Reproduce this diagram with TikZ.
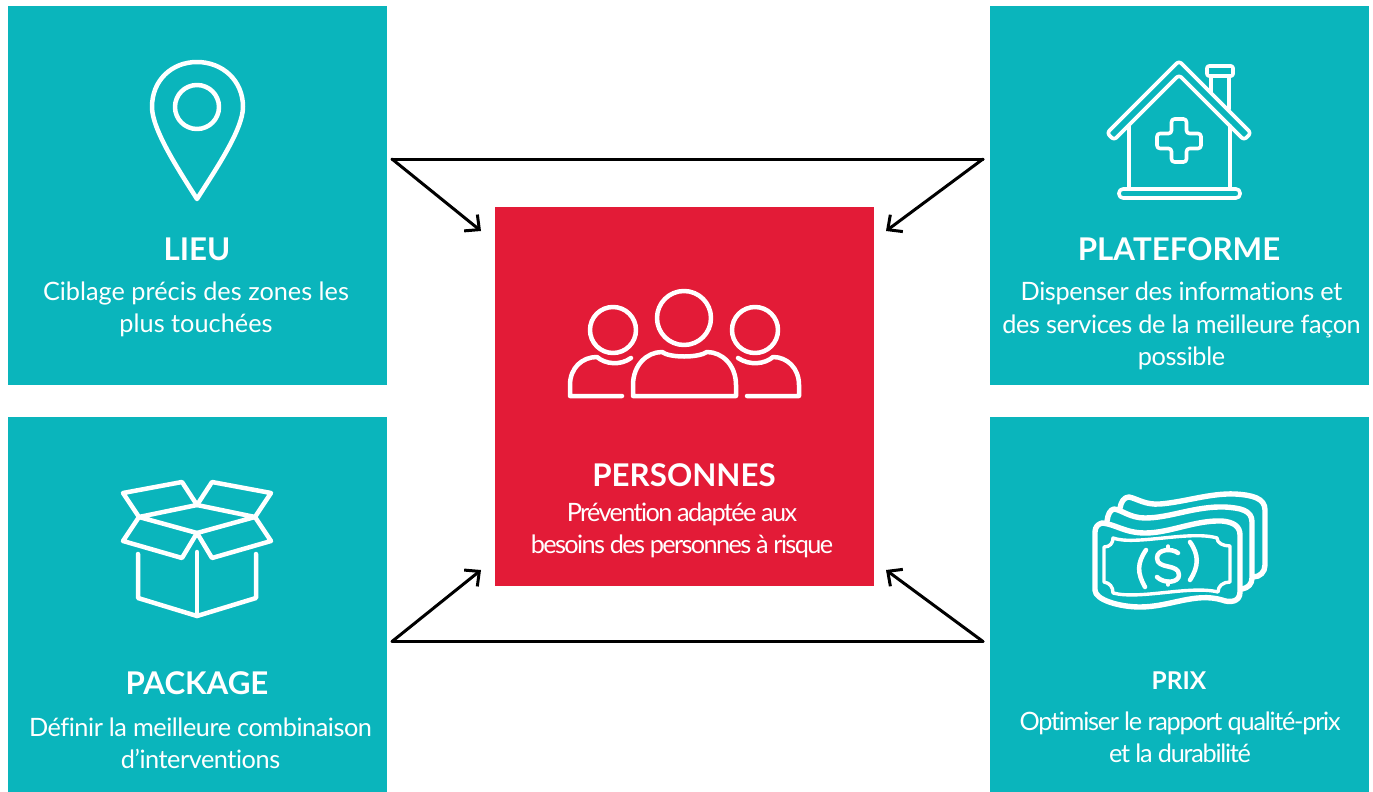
\documentclass[tikz,border=0pt]{standalone}
\usepackage{fontspec}
\setmainfont{Lato}[Ligatures=NoCommon]
\usetikzlibrary{arrows.meta}
\definecolor{tealfond}{HTML}{0AB5BC}
\definecolor{rougefond}{HTML}{E31B37}
\begin{document}
\begin{tikzpicture}[x=1pt, y=-1pt,
	tealbox/.style={fill=tealfond, draw=none, outer sep=0pt, inner sep=0pt, minimum width=379pt, minimum height=379pt},
	redbox/.style={fill=rougefond, draw=none, outer sep=0pt, inner sep=0pt, minimum width=379pt, minimum height=379pt},
	title/.style={text=white, font=\fontsize{31.3}{32}\selectfont\bfseries, inner sep=0pt},
	smalltitle/.style={text=white, font=\fontsize{24.5}{28}\selectfont\bfseries, inner sep=0pt},
	desc/.style={text=white, font=\fontsize{25.3}{32.3}\selectfont, align=center, inner sep=0pt},
	icon/.style={draw=white, line width=4.5pt, line cap=round, line join=round},
	link/.style={draw=black, line width=3pt, line cap=round, line join=miter}]
	\useasboundingbox (0,0) rectangle (1373,792);
	\node[tealbox] (L) at (197.5,195.5) {};
	\node[tealbox] (T) at (1179.5,195.5) {};
	\node[tealbox, minimum height=375pt] (P) at (197.5,604.5) {};
	\node[tealbox, minimum height=375pt] (R) at (1179.5,604.5) {};
	\node[redbox] (C) at (684.5,396.5) {};
	\node[title] (Lt) at (197,249) {LIEU};
	\node[desc] (Ld) at (196,309) {Ciblage précis des zones les\\plus touchées};
	\node[title] (Tt) at (1179,249) {PLATEFORME};
	\node[desc, font=\fontsize{25.3}{32.3}\addfontfeature{LetterSpace=-1.5}] (Td) at (1181.5,326) {Dispenser des informations et\\des services de la meilleure façon\\possible};
	\node[title] (Pt) at (197,683) {PACKAGE};
	\node[desc, font=\fontsize{25.3}{32.3}\addfontfeature{LetterSpace=-1.8}] (Pd) at (200.5,743) {Définir la meilleure combinaison\\d’interventions};
	\node[smalltitle] (Rt) at (1179,681) {PRIX};
	\node[desc, font=\fontsize{25.3}{32.3}\addfontfeature{LetterSpace=-5}] (Rd) at (1180,737) {Optimiser le rapport qualité-prix\\et la durabilité};
	\node[title] (Ct) at (684,475) {PERSONNES};
	\node[desc, font=\fontsize{25.3}{32.3}\addfontfeature{LetterSpace=-6.5}] (Cd) at (682,530.5) {Prévention adaptée aux\\besoins des personnes à risque};
	% coins des fleches
	\coordinate (a1) at (392,159);
	\coordinate (a2) at (983,159);
	\coordinate (a3) at (392,641.5);
	\coordinate (a4) at (983,641.5);
	\coordinate (b1) at (481,231);
	\coordinate (b2) at (886,231);
	\coordinate (b3) at (481,570);
	\coordinate (b4) at (886,570);
	\begin{scope}[>={Straight Barb[length=11pt, width=21pt, line width=3pt]}]
	\draw[link] (a1) -- (a2);
	\draw[link] (a3) -- (a4);
	\draw[link, ->] (a1) -- (b1);
	\draw[link, ->] (a2) -- (b2);
	\draw[link, ->] (a3) -- (b3);
	\draw[link, ->] (a4) -- (b4);
	\end{scope}
	% lieu
	\draw[icon] (197,199) .. controls (180,172) and (152,130) .. (152,107) .. controls (152,80) and (172,62) .. (197,62) .. controls (222,62) and (243,80) .. (243,107) .. controls (243,130) and (214,172) .. (197,199) -- cycle;
	\draw[icon] (197,107) circle (22);
	% plateforme
	\draw[icon, line width=3.6pt, rounded corners=3pt] (1179,61) -- (1251,133) -- (1244,140) -- (1179,75) -- (1114,140) -- (1107,133) -- cycle;
	\draw[icon, line width=3.6pt] (1129,126) -- (1129,188);
	\draw[icon, line width=3.6pt] (1230,126) -- (1230,188);
	\draw[icon, line width=3.6pt, rounded corners=4pt] (1119,189) rectangle (1240,198);
	\draw[icon, line width=3.6pt, rounded corners=2pt] (1207,66) rectangle (1233,76);
	\draw[icon, line width=3.6pt] (1211,76) -- (1211,92);
	\draw[icon, line width=3.6pt] (1229,76) -- (1229,109);
	\draw[icon, line width=3.6pt, rounded corners=3pt] (1171.5,119) -- (1186.5,119) -- (1186.5,133.5) -- (1201,133.5) -- (1201,148.5) -- (1186.5,148.5) -- (1186.5,162) -- (1171.5,162) -- (1171.5,148.5) -- (1157,148.5) -- (1157,133.5) -- (1171.5,133.5) -- cycle;
	% package
	\draw[icon] (139,517) -- (123,493) -- (182,482) -- (197,505);
	\draw[icon] (255,517) -- (271,493) -- (212,482) -- (197,505);
	\draw[icon] (139,517) -- (197,505) -- (255,517) -- (197,533) -- cycle;
	\draw[icon] (139,517) -- (123,541) -- (182,558) -- (197,533);
	\draw[icon] (255,517) -- (271,541) -- (212,558) -- (197,533);
	\draw[icon] (138,554) -- (138,598) -- (197,616) -- (256,598) -- (256,554);
	\draw[icon] (197,552) -- (197,616);
	% prix
	\draw[icon, line width=5.4pt] (1102,523) .. controls (1115,524) and (1125,533) .. (1145,533) .. controls (1170,533) and (1195,520) .. (1222,521) .. controls (1233,522) and (1240,526) .. (1240,535) -- (1240,592) .. controls (1240,602) and (1230,603) .. (1222,600) .. controls (1195,592) and (1170,607) .. (1140,607) .. controls (1120,607) and (1095,600) .. (1095,590) -- (1095,532) .. controls (1095,527) and (1098,524) .. (1102,523) -- cycle;
	\draw[icon, line width=3.4pt] (1113,538) .. controls (1135,546) and (1190,530) .. (1217,538) .. controls (1217,543) and (1223,546) .. (1230,546) -- (1230,582) .. controls (1223,582) and (1218,586) .. (1218,592) .. controls (1190,585) and (1140,600) .. (1113,593) .. controls (1113,587) and (1110,583) .. (1104,582) -- (1104,547) .. controls (1110,547) and (1113,543) .. (1113,538) -- cycle;
	\draw[icon] (1146,550) .. controls (1137,563) and (1137,573) .. (1145,587);
	\draw[icon] (1190,542) .. controls (1199,555) and (1199,566) .. (1190,580);
	\draw[icon] (1178,553) .. controls (1172,548) and (1157,549) .. (1157,558) .. controls (1157,570) and (1179,563) .. (1179,575) .. controls (1179,583) and (1164,584) .. (1157,577);
	\draw[icon, line width=3.4pt] (1168,546) -- (1168,549);
	\draw[icon, line width=3.4pt] (1168,581) -- (1168,585);
	\draw[icon, line width=5.4pt] (1107,521) .. controls (1108,514) and (1110,510) .. (1114,509) .. controls (1122,510) and (1130,518) .. (1145,518) .. controls (1170,518) and (1195,506) .. (1225,507) .. controls (1240,508) and (1252,510) .. (1252,522) -- (1252,578) .. controls (1252,584) and (1248,588) .. (1242,589);
	\draw[icon, line width=5.4pt] (1120,508) .. controls (1121,502) and (1124,497) .. (1129,497) .. controls (1138,499) and (1145,505) .. (1160,504) .. controls (1185,502) and (1210,493) .. (1235,494) .. controls (1252,495) and (1265,498) .. (1265,510) -- (1265,565) .. controls (1265,572) and (1260,577) .. (1253,577);
	% personnes
	\draw[icon] (684,318) circle (27);
	\draw[icon] (613,330) circle (23);
	\draw[icon] (755,330) circle (23);
	\draw[icon] (633,396) -- (736,396) -- (736,385) .. controls (736,365) and (722,352) .. (707,352) .. controls (698,358) and (670,358) .. (662,352) .. controls (647,352) and (633,365) .. (633,385) -- cycle;
	\draw[icon] (622,396) -- (570,396) -- (570,385) .. controls (570,368) and (582,357) .. (597,357) .. controls (605,364) and (620,366) .. (631,358);
	\draw[icon] (747,396) -- (799,396) -- (799,385) .. controls (799,368) and (787,357) .. (773,357) .. controls (765,364) and (750,366) .. (738,358);
\end{tikzpicture}
\end{document}
